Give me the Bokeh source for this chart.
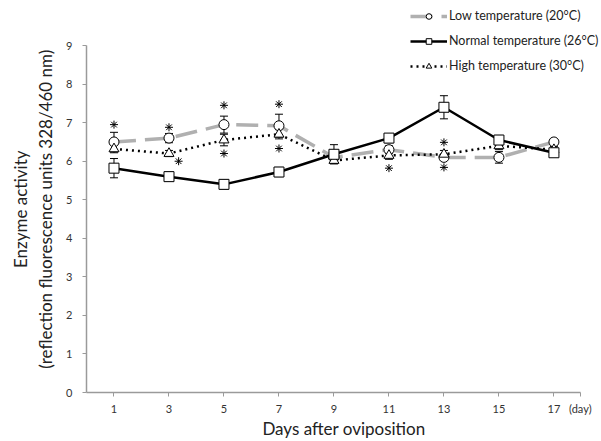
from bokeh.plotting import figure
from bokeh.models import (ColumnDataSource, Whisker, TeeHead, Legend, LegendItem,
                          FixedTicker, Range1d)
from bokeh.embed import file_html
from bokeh.resources import INLINE

days = [1, 3, 5, 7, 9, 11, 13, 15, 17]
low = [6.5, 6.6, 6.95, 6.92, 6.1, 6.3, 6.1, 6.1, 6.5]
low_err = [0.25, 0.12, 0.22, 0.3, 0.1, 0.1, 0.08, 0.15, 0.08]
normal = [5.82, 5.6, 5.4, 5.72, 6.18, 6.6, 7.4, 6.55, 6.22]
normal_err = [0.25, 0.12, 0.12, 0.12, 0.25, 0.12, 0.3, 0.12, 0.08]
high = [6.32, 6.2, 6.55, 6.7, 6.02, 6.15, 6.18, 6.4, 6.3]
high_err = [0.1, 0.08, 0.15, 0.12, 0.08, 0.1, 0.1, 0.1, 0.08]
star_x = [1, 3, 3.35, 5, 5, 7, 7, 11, 13, 13]
star_y = [6.95, 6.88, 6.0, 7.45, 6.2, 7.48, 6.33, 5.82, 6.49, 5.84]
y_ticks = [0, 1, 2, 3, 4, 5, 6, 7, 8, 9]
unit_pos = 17.96
unit_label = "(day)"
labels = ["Low temperature (20\u00b0C)", "Normal temperature (26\u00b0C)", "High temperature (30\u00b0C)"]

FONT = "Lato"
AXIS_GREY = "#9a9a9a"

p = figure(width=601, height=441, output_backend="svg", toolbar_location=None,
           x_range=Range1d(0, 18.73), y_range=Range1d(0, 10.17),
           min_border_left=86, min_border_right=0, min_border_top=0, min_border_bottom=49)
p.outline_line_color = None
p.xgrid.grid_line_color = None
p.ygrid.grid_line_color = None

for ax in (p.xaxis[0], p.yaxis[0]):
    ax.axis_line_color = AXIS_GREY
    ax.axis_line_width = 1.5
    ax.major_tick_line_color = AXIS_GREY
    ax.major_tick_in = 0
    ax.major_tick_out = 4
    ax.minor_tick_line_color = None
    ax.major_label_text_font = FONT
    ax.major_label_text_font_size = "11px"
    ax.major_label_text_color = "#333333"
    ax.axis_label_text_font = FONT
    ax.axis_label_text_font_style = "normal"
    ax.axis_label_text_color = "#222222"

p.xaxis.ticker = FixedTicker(ticks=days + [unit_pos])
p.xaxis.major_label_overrides = {unit_pos: unit_label}
p.xaxis.bounds = (0, unit_pos)
p.yaxis.ticker = FixedTicker(ticks=y_ticks)
p.yaxis.bounds = (0, 9)
p.xaxis.major_label_standoff = 5
p.xaxis.axis_label = "Days after oviposition"
p.xaxis.axis_label_text_font_size = "17px"
p.xaxis.axis_label_standoff = 0
p.yaxis.axis_label = ("Enzyme activity\u2003\u2003\n"
                      "(reflection fluorescence units 328/460 nm)\u2003\u2003")
p.yaxis.axis_label_text_font_size = "17px"
p.yaxis.axis_label_standoff = 7
p.yaxis.major_label_standoff = 10

src_low = ColumnDataSource(dict(x=days, y=low, up=[a + b for a, b in zip(low, low_err)],
                                lo=[a - b for a, b in zip(low, low_err)]))
src_norm = ColumnDataSource(dict(x=days, y=normal, up=[a + b for a, b in zip(normal, normal_err)],
                                 lo=[a - b for a, b in zip(normal, normal_err)]))
src_high = ColumnDataSource(dict(x=days, y=high, up=[a + b for a, b in zip(high, high_err)],
                                 lo=[a - b for a, b in zip(high, high_err)]))

for s in (src_low, src_high, src_norm):
    w = Whisker(source=s, base="x", upper="up", lower="lo", line_color="black", line_width=1,
                upper_head=TeeHead(size=8, line_color="black", line_width=1),
                lower_head=TeeHead(size=8, line_color="black", line_width=1))
    p.add_layout(w)

l_low = p.line("x", "y", source=src_low, line_color="#b0b0b0", line_width=3.5, line_dash="22 9")
m_low = p.scatter("x", "y", source=src_low, marker="circle", size=10, fill_color="white",
                  line_color="black", line_width=1)
l_high = p.line("x", "y", source=src_high, line_color="black", line_width=2.5, line_dash="2 4")
m_high = p.scatter("x", "y", source=src_high, marker="triangle", size=10, fill_color="white",
                   line_color="black", line_width=1)
l_norm = p.line("x", "y", source=src_norm, line_color="black", line_width=2.5)
m_norm = p.scatter("x", "y", source=src_norm, marker="square", size=10, fill_color="white",
                   line_color="black", line_width=1)

p.scatter(star_x, star_y, marker="asterisk", size=8, line_color="black", line_width=1)

legend = Legend(items=[LegendItem(label=labels[0], renderers=[l_low, m_low]),
                       LegendItem(label=labels[1], renderers=[l_norm, m_norm]),
                       LegendItem(label=labels[2], renderers=[l_high, m_high])],
                location=(324, 319), orientation="vertical",
                background_fill_alpha=0, border_line_color=None,
                padding=0, margin=0, spacing=10, glyph_width=37, glyph_height=14,
                label_height=14, label_standoff=2,
                label_text_font=FONT, label_text_font_size="12.5px", label_text_color="#222222")
p.add_layout(legend, "center")

open("out.html", "w").write(file_html(p, INLINE))
